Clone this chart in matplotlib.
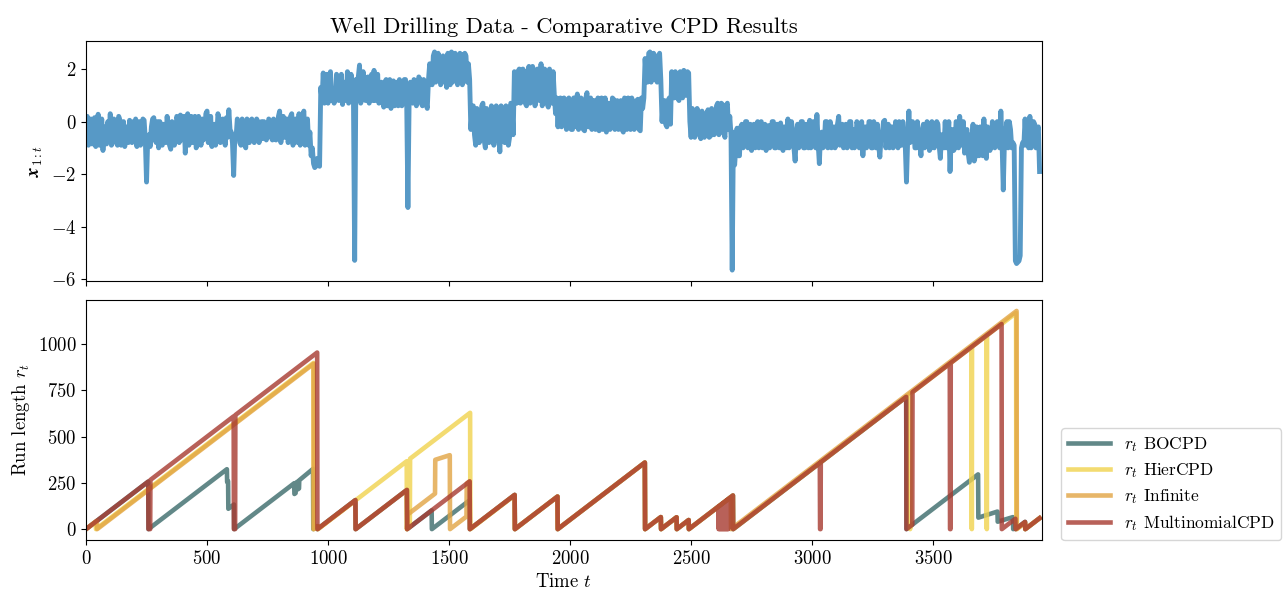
import numpy as np
import matplotlib
matplotlib.use("Agg")
import matplotlib.pyplot as plt

plt.rcParams["font.family"] = "serif"
plt.rcParams["font.serif"] = ["cmr10"]
plt.rcParams["mathtext.fontset"] = "cm"
plt.rcParams["axes.formatter.use_mathtext"] = True
plt.rcParams["font.size"] = 13.5

# well log signal (standardised), read every 10 steps at t = 0, 10, 20, ...
well_x = [
    -0.2, -0.9, 0.1, -0.6, -0.95, 0.28, -0.5, -1.1, -0.3, 0.0,
    0.3, -0.7, -0.3, -0.9, 0.05, -0.6, -0.95, -0.2, 0.05, -0.8,
    -0.4, -0.95, 0.0, -0.7, 0.05, -2.3, -0.5, -0.2, 0.15, -0.8,
    -1.0, -0.4, -0.1, -0.8, -0.3, -1.05, -0.2, -0.6, 0.0, 0.25,
    -0.5, -1.2, 0.3, -0.4, -0.8, 0.2, -0.9, -0.3, 0.1, -0.6,
    0.4, -0.5, -0.95, -0.1, -0.6, 0.1, -0.7, -0.3, 0.15, 0.45,
    -0.4, -2.05, -0.6, -0.2, -0.9, -0.4, -1.0, 0.0, -0.5, -0.3,
    -0.6, 0.0, -0.4, -0.65, -0.1, -0.5, 0.0, -0.7, -0.2, -0.55,
    0.4, -0.3, -0.6, 0.1, -0.5, 0.3, -0.7, -0.2, 0.3, -0.5,
    0.4, -0.4, -0.9, -1.3, -1.6, -1.7, -1.6, 1.3, 1.85, 1.0,
    0.7, 1.9, 1.2, 0.8, 1.7, 1.0, 0.65, 1.5, 1.9, 0.9,
    1.4, -5.28, 1.0, 2.15, 0.9, 1.6, 1.2, 0.7, 1.8, 1.95,
    1.1, 0.7, 1.5, 0.55, 1.6, 0.9, 0.5, 1.55, 1.0, 0.6,
    1.4, 0.8, 1.6, -3.27, 1.5, 0.7, 1.55, 0.9, 1.6, 0.6,
    1.5, 0.5, 2.2, 1.4, 2.65, 1.8, 2.3, 1.5, 2.4, 1.3,
    2.0, 2.65, 1.6, 2.5, 1.9, 2.55, 1.7, 2.5, 2.2, -0.3,
    0.6, -0.9, 0.3, -0.6, 0.7, -1.0, 0.1, -0.7, 0.5, -0.4,
    0.4, -1.15, 0.2, -0.8, 0.3, -0.6, 0.6, 1.9, 0.7, 2.0,
    1.0, 1.8, 0.6, 2.1, 1.2, 1.9, 0.8, 1.7, 2.2, 1.0,
    1.9, 0.55, 1.6, 1.9, 0.3, -0.2, 0.9, 0.1, 0.8, -0.25,
    0.6, -0.3, 0.9, 1.05, -0.2, 0.5, -0.35, 1.1, 0.2, -0.3,
    0.8, 0.0, -0.35, 0.9, 0.3, -0.4, 0.7, -0.1, 0.85, 0.0,
    -0.3, 0.8, -0.4, 0.4, 0.9, -0.3, 0.6, 0.0, 0.85, -0.35,
    0.5, 2.4, 1.5, 2.65, 1.7, 2.5, 1.5, 2.6, 0.0, 0.8,
    -0.2, 0.9, 1.9, 0.9, 1.6, 0.8, 1.7, 1.95, 1.0, 1.85,
    -0.6, 0.4, -0.3, 0.3, -0.65, 0.2, -0.4, 0.45, -0.55, 0.1,
    -0.4, 0.7, -0.35, 0.65, -0.6, 0.7, 0.2, -5.65, -1.65, -0.25,
    -1.3, -0.1, -0.9, 0.0, -0.7, -1.1, -0.1, -0.6, -1.0, 0.0,
    -0.5, -1.1, -0.15, -0.7, 0.0, -1.0, -0.4, -0.05, -1.1, -0.3,
    0.1, -0.8, -0.4, -1.5, -0.1, -0.7, 0.0, -1.0, -0.4, 0.05,
    -0.9, -0.3, 0.27, -1.6, -0.4, -0.9, 0.0, -0.6, -1.0, -0.2,
    -0.7, 0.2, -0.5, -1.0, -0.1, -0.8, 0.0, -0.3, -0.9, -0.2,
    -0.6, -1.3, -0.2, -0.7, 0.0, -1.0, -0.4, -0.1, -1.35, -0.5,
    0.05, -0.6, -1.0, -0.2, -0.8, -0.3, 0.0, -0.9, -0.5, -2.3,
    0.4, -0.6, -0.2, -1.0, -0.5, -1.3, -0.1, -0.8, -0.3, -1.0,
    -0.2, -0.8, -0.1, -1.4, -0.5, 0.0, -0.7, -1.9, -0.3, -1.0,
    -0.1, 0.2, -0.6, -1.2, -0.3, -1.55, -0.8, -1.5, -0.2, -1.3,
    -0.6, 0.1, -1.4, -0.3, -0.9, -0.1, -0.7, -0.2, 0.4, -2.6,
    -0.4, -1.0, -0.3, -0.8, -5.3, -5.35, -5.1, -0.8, 0.1, -0.4,
    0.2, -0.6, -0.1, -0.4, -1.9,
]
# in-between readings at t = 5, 15, 25, ...
well_x_mid = [
    0.2, -0.4, -0.85, 0.15, -0.3, -0.9, 0.1, -0.2, -0.85, -0.6,
    -0.9, 0.1, -0.8, 0.2, -0.9, 0.0, -0.4, -0.8, -0.5, 0.0,
    0.1, -0.3, -0.9, 0.1, -0.7, -0.6, -0.95, 0.1, -0.7, 0.0,
    0.0, -0.9, -0.7, 0.2, -0.9, 0.0, -0.9, 0.2, -0.8, -0.7,
    0.2, -0.2, -0.9, 0.2, -0.2, -1.0, 0.2, -0.9, -0.7, 0.3,
    -0.8, 0.2, -0.2, -0.9, 0.3, -0.8, 0.1, -0.9, -0.6, -0.3,
    -0.8, -0.5, 0.1, -0.8, 0.1, -0.9, 0.1, -0.8, 0.1, -0.8,
    0.1, -0.8, 0.0, 0.0, -0.7, 0.1, -0.6, 0.1, -0.7, 0.2,
    -0.8, 0.2, 0.1, -0.8, 0.2, -0.9, 0.1, -0.8, -0.9, 0.2,
    -0.9, 0.1, -0.4, -1.0, -1.75, -1.4, -1.7, 0.8, 0.7, 1.8,
    1.6, 0.8, 0.7, 1.8, 0.8, 1.8, 1.4, 0.8, 0.7, 1.8,
    0.8, 1.6, 1.7, 0.7, 1.9, 0.8, 1.7, 1.5, 0.8, 0.8,
    1.8, 1.4, 0.8, 1.5, 0.6, 1.6, 1.2, 0.6, 1.5, 1.6,
    0.6, 1.6, 0.7, 0.8, 1.2, 1.6, 0.6, 1.7, 0.7, 1.6,
    0.7, 1.6, 1.6, 2.5, 1.5, 2.6, 1.4, 2.5, 1.7, 2.6,
    1.4, 1.5, 2.6, 1.4, 2.6, 1.4, 2.6, 1.5, 1.6, 0.4,
    -0.5, 0.5, -0.8, 0.6, -0.7, 0.5, -0.8, 0.6, -0.9, 0.6,
    -0.6, 0.6, -0.7, 0.6, -0.9, 0.7, -0.5, 0.7, 1.9, 0.7,
    2.0, 0.7, 1.9, 0.7, 2.1, 0.6, 2.0, 0.8, 0.6, 2.0,
    0.7, 2.0, 0.7, 1.0, 0.9, 0.8, -0.2, 0.9, -0.3, 0.9,
    -0.3, 0.9, -0.2, -0.3, 0.9, -0.3, 0.9, -0.2, 0.9, 0.8,
    -0.3, 0.9, 0.8, -0.3, 0.9, 0.6, -0.3, 0.9, -0.3, 0.8,
    0.7, -0.3, 0.9, -0.3, -0.2, 0.9, -0.3, 0.8, -0.3, 0.9,
    0.9, 1.6, 2.6, 1.5, 2.6, 1.6, 2.5, 1.6, 0.8, -0.1,
    0.8, -0.1, 1.0, 1.9, 0.9, 1.9, 0.9, 1.0, 1.9, 0.0,
    0.5, -0.6, 0.5, -0.5, 0.4, -0.6, 0.3, -0.6, 0.5, -0.5,
    0.6, -0.5, 0.7, -0.4, 0.6, -0.3, -0.5, -0.4, -1.0, -1.3,
    -0.2, -1.0, 0.0, -1.0, -0.1, -0.4, -1.0, 0.0, -0.3, -1.0,
    -0.1, -0.5, -1.0, 0.0, -1.0, -0.1, -1.0, -0.9, -0.2, -1.0,
    -1.0, 0.0, -1.0, -0.5, -1.0, 0.0, -1.0, -0.1, -1.0, -1.0,
    0.0, -1.0, -0.8, -0.5, -1.0, 0.0, -1.0, 0.0, -0.3, -1.0,
    -0.1, -0.9, -0.1, -0.2, -1.0, 0.0, -1.0, -1.0, 0.0, -1.0,
    0.0, -0.4, -1.0, 0.0, -1.0, 0.0, -1.0, -0.9, -0.6, 0.0,
    -1.0, -0.1, -0.2, -1.0, 0.0, -1.0, -0.9, 0.0, -0.9, -0.7,
    -0.8, 0.0, -1.0, 0.0, -0.9, -0.4, -1.0, 0.0, -1.1, 0.0,
    -1.0, 0.0, -0.9, -0.5, -1.0, -1.0, 0.0, -0.6, -1.1, 0.0,
    -1.0, -0.9, 0.0, -0.4, -1.2, -0.5, -0.1, -1.3, -1.0, -0.2,
    -1.3, -1.0, -0.2, -1.1, 0.0, -1.0, 0.0, -1.0, -0.8, -0.7,
    0.0, 0.0, -1.0, -0.9, -5.4, -5.3, -1.0, -0.9, -0.9, -1.0,
    -1.0, 0.0, -1.0, -0.2,
]

# MAP run lengths, (time, run length) vertices
bocpd_rl = [
    (0, 0), (257, 257), (258, 0), (582, 324), (583, 255), (587, 259), (588, 110),
    (611, 133), (612, 0), (860, 248), (861, 190), (866, 195), (867, 250), (874, 257),
    (875, 215), (880, 220), (881, 264), (938, 326), (939, 0), (955, 16), (956, 0),
    (1113, 157), (1114, 0), (1326, 212), (1327, 0), (1428, 101), (1429, 0),
    (1585, 156), (1586, 0), (1771, 185), (1772, 0), (1948, 176), (1949, 0),
    (2309, 360), (2310, 0), (2375, 65), (2376, 0), (2440, 64), (2441, 0),
    (2490, 49), (2491, 0), (2673, 182), (2674, 0), (3389, 715), (3390, 0),
    (3686, 296), (3687, 62), (3766, 95), (3767, 40), (3830, 65), (3831, 0),
    (3840, 9), (3841, 0), (3880, 39), (3881, 0), (3940, 59),
]
hier_rl = [
    (0, 0), (40, 40), (41, 0), (940, 899), (941, 0), (957, 16), (958, 0),
    (1325, 367), (1326, 0), (1338, 12), (1339, 381), (1587, 629), (1588, 0),
    (1771, 183), (1772, 0), (1948, 176), (1949, 0), (2309, 360), (2310, 0),
    (2375, 65), (2376, 0), (2440, 64), (2441, 0), (2490, 49), (2491, 0),
    (2673, 182), (2674, 0), (3404, 730), (3405, 0), (3406, 732), (3659, 985),
    (3660, 0), (3661, 987), (3721, 1047), (3722, 0), (3723, 1049), (3843, 1169),
    (3844, 0), (3880, 36), (3881, 0), (3940, 59),
]
infinite_rl = [
    (0, 0), (45, 45), (46, 0), (940, 894), (941, 0), (957, 16), (958, 0),
    (1113, 155), (1114, 0), (1325, 211), (1326, 0), (1330, 80), (1442, 192),
    (1443, 375), (1503, 400), (1504, 0), (1572, 68), (1573, 247), (1585, 259),
    (1586, 0), (1771, 185), (1772, 0), (1948, 176), (1949, 0), (2309, 360),
    (2310, 0), (2375, 65), (2376, 0), (2440, 64), (2441, 0), (2490, 49),
    (2491, 0), (2664, 173), (2665, 0), (3845, 1180), (3846, 0), (3880, 34),
    (3881, 0), (3940, 59),
]
multi_rl = [
    (0, 0), (257, 257), (258, 0), (265, 0), (266, 266), (610, 610), (611, 0),
    (616, 0), (617, 617), (955, 955), (956, 0), (1113, 157), (1114, 0),
    (1326, 212), (1327, 0), (1585, 258), (1586, 0), (1771, 185), (1772, 0),
    (1948, 176), (1949, 0), (2309, 360), (2310, 0), (2375, 65), (2376, 0),
    (2440, 64), (2441, 0), (2490, 49), (2491, 0),
    (2612, 121), (2614, 0), (2616, 125), (2618, 0), (2620, 129), (2622, 0),
    (2624, 133), (2626, 0), (2628, 137), (2630, 0), (2632, 141), (2634, 0),
    (2636, 145), (2638, 0), (2640, 149), (2642, 0), (2644, 153), (2646, 0),
    (2648, 157), (2650, 0), (2652, 161), (2654, 0), (2656, 165),
    (2673, 182), (2674, 0), (3032, 358), (3033, 0), (3035, 0), (3036, 362),
    (3389, 715), (3390, 0), (3414, 24), (3415, 741), (3569, 895), (3570, 0),
    (3572, 0), (3573, 899), (3783, 1109), (3784, 0), (3840, 56), (3841, 0),
    (3880, 39), (3881, 0), (3940, 59),
]

labels = [r"$r_t$ BOCPD", r"$r_t$ HierCPD", r"$r_t$ Infinite", r"$r_t$ MultinomialCPD"]
colors = ["#3b6b6b", "#f0d34d", "#e2a443", "#a73a30"]

fig = plt.figure(figsize=(12.88, 5.92), dpi=100)
ax1 = fig.add_axes([0.0668, 0.5253, 0.7422, 0.4054])
ax2 = fig.add_axes([0.0668, 0.0878, 0.7422, 0.4054], sharex=ax1)

# merge the two reading grids in time order
t_all = np.concatenate([np.arange(len(well_x)) * 10, np.arange(len(well_x_mid)) * 10 + 5])
x_all = np.concatenate([well_x, well_x_mid])
order = np.argsort(t_all)
ax1.plot(t_all[order], x_all[order], color="tab:blue", alpha=0.75, lw=3.5)
ax1.set_ylabel(r"$\boldsymbol{x}_{1:t}$")
ax1.set_title("Well Drilling Data - Comparative CPD Results", fontsize="large")
ax1.tick_params(labelbottom=False)

for rl, lab, c in zip([bocpd_rl, hier_rl, infinite_rl, multi_rl], labels, colors):
    pts = np.array(rl)
    ax2.plot(pts[:, 0], pts[:, 1], color=c, alpha=0.8, lw=3.3, label=lab)

ax2.set_xlim(0, 3950)
ax2.set_yticks([0, 250, 500, 750, 1000])
ax2.set_xlabel("Time $t$")
ax2.set_ylabel("Run length $r_t$")
ax2.legend(loc="lower left", bbox_to_anchor=(1.02, 0.0), borderaxespad=0,
           fontsize=12.5, labelspacing=0.4, handlelength=2.4)

plt.savefig("out.png", dpi=100)
